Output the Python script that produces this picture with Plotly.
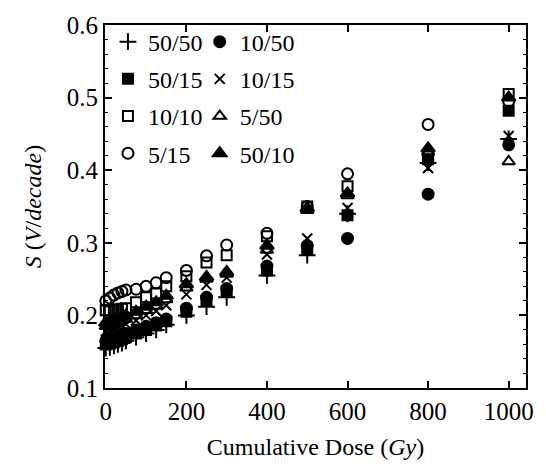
import plotly.graph_objects as go

dose = [0, 10, 20, 30, 40, 50, 75, 100, 125, 150, 200, 250, 300, 400, 500, 600, 800, 1000]

s_50_50 = [0.155, 0.156, 0.158, 0.160, 0.162, 0.165, 0.170, 0.175, 0.180, 0.187, 0.200, 0.212, 0.225, 0.255, 0.283, 0.340, 0.410, 0.443]
s_10_50 = [0.165, 0.167, 0.169, 0.171, 0.173, 0.175, 0.180, 0.185, 0.190, 0.195, 0.210, 0.225, 0.237, 0.268, 0.296, 0.306, 0.367, 0.435]
s_50_15 = [0.160, 0.161, 0.163, 0.165, 0.167, 0.170, 0.175, 0.180, 0.186, 0.192, 0.205, 0.220, 0.233, 0.262, 0.290, 0.338, 0.415, 0.482]
s_10_15 = [0.178, 0.180, 0.182, 0.184, 0.186, 0.188, 0.193, 0.200, 0.206, 0.214, 0.229, 0.242, 0.252, 0.284, 0.306, 0.348, 0.403, 0.447]
s_10_10 = [0.207, 0.207, 0.208, 0.208, 0.209, 0.210, 0.218, 0.225, 0.230, 0.240, 0.254, 0.273, 0.283, 0.309, 0.350, 0.378, 0.420, 0.505]
s_5_50 = [0.185, 0.187, 0.189, 0.191, 0.193, 0.195, 0.200, 0.207, 0.213, 0.222, 0.238, 0.250, 0.257, 0.290, 0.345, 0.365, 0.425, 0.412]
s_5_15 = [0.220, 0.224, 0.228, 0.231, 0.233, 0.235, 0.236, 0.240, 0.245, 0.252, 0.262, 0.282, 0.297, 0.313, 0.350, 0.395, 0.463, 0.495]
s_50_10 = [0.190, 0.192, 0.194, 0.196, 0.198, 0.200, 0.205, 0.212, 0.218, 0.227, 0.243, 0.253, 0.260, 0.296, 0.348, 0.368, 0.430, 0.500]

series = [
    ("50/50", s_50_50, "cross-thin-open", 12, "legend"),
    ("50/15", s_50_15, "square", 10, "legend"),
    ("10/10", s_10_10, "square-open", 10, "legend"),
    ("5/15", s_5_15, "circle-open", 11, "legend"),
    ("10/50", s_10_50, "circle", 11, "legend2"),
    ("10/15", s_10_15, "x-thin-open", 10, "legend2"),
    ("5/50", s_5_50, "triangle-up-open", 11, "legend2"),
    ("50/10", s_50_10, "triangle-up", 12, "legend2"),
]

FONT = "Liberation Serif"
fig = go.Figure()
for name, vals, sym, size, lg in series:
    fig.add_trace(go.Scatter(
        x=dose, y=vals, mode="markers", name=name,
        legend=lg, legendgroup=name,
        cliponaxis=False,
        marker=dict(symbol=sym, size=size, color="black",
                    line=dict(color="black", width=2)),
    ))

axis_common = dict(
    showline=True, linecolor="black", linewidth=2, mirror="ticks",
    ticks="inside", ticklen=7, tickwidth=1.5, tickcolor="black",
    showgrid=False, zeroline=False,
    tickfont=dict(family=FONT, size=25, color="black"),
)

fig.update_layout(
    width=546, height=470,
    margin=dict(l=105, r=18, t=15, b=82),
    plot_bgcolor="white", paper_bgcolor="white",
    font=dict(family=FONT, color="black"),
    xaxis=dict(range=[-2, 1043], tickvals=[0, 200, 400, 600, 800, 1000],
               title=dict(text="Cumulative Dose (<i>Gy</i>)",
                          font=dict(family=FONT, size=24, color="black"), standoff=14),
               **axis_common),
    yaxis=dict(range=[0.1, 0.6], tickvals=[0.1, 0.2, 0.3, 0.4, 0.5, 0.6],
               tickformat=".1f",
               minor=dict(ticks="inside", ticklen=3, dtick=0.02, tickcolor="black", tickwidth=1),
               title=dict(text="<i>S</i> (<i>V</i>/<i>decade</i>)",
                          font=dict(family=FONT, size=24, color="black"), standoff=18),
               **axis_common),
    legend=dict(x=0.007, y=1.015, xanchor="left", yanchor="top", bgcolor="rgba(0,0,0,0)",
                font=dict(family=FONT, size=24, color="black"), tracegroupgap=3, itemwidth=30),
    legend2=dict(x=0.225, y=1.015, xanchor="left", yanchor="top", bgcolor="rgba(0,0,0,0)",
                 font=dict(family=FONT, size=24, color="black"), tracegroupgap=3, itemwidth=30),
    showlegend=True,
)

fig.write_html("out.html")
